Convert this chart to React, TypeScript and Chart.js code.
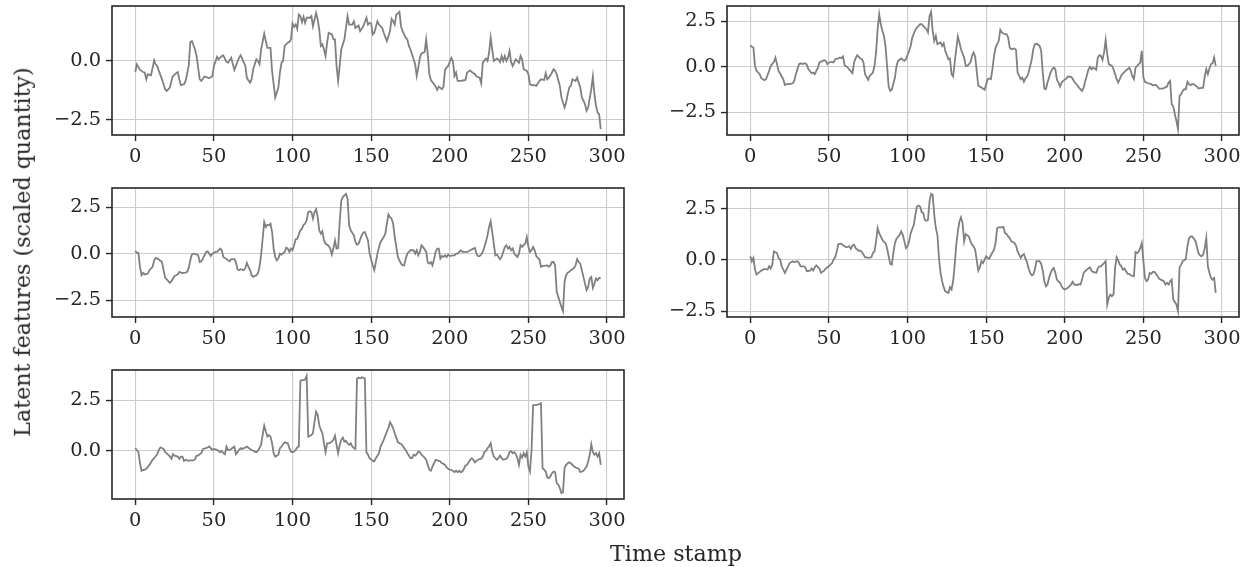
import React, { useEffect, useRef } from "react";
import { Chart, registerables } from "chart.js";

Chart.register(...registerables);

// ---------- data ----------
const xTicks = [0, 50, 100, 150, 200, 250, 300];
const yTicks = [-2.5, 0, 2.5];
const xLabel = "Time stamp";
const yLabel = "Latent features (scaled quantity)";

// each series: [time stamp, scaled value]
const latent1: [number, number][] = [
  [0,-0.47],[1,-0.14],[3,-0.38],[5,-0.47],[6,-0.49],[7,-0.78],[8,-0.56],[10,-0.61],[12,0.03],[13,-0.14],[14,-0.21],[15,-0.42],[17,-0.78],[19,-1.2],[20,-1.27],[22,-1.13],[23,-0.85],[24,-0.64],[26,-0.52],[27,-0.47],[28,-0.78],[29,-1.03],[31,-0.99],[32,-0.85],[34,-0.21],[35,0.81],[36,0.85],[38,0.49],[39,0.21],[41,-0.78],[42,-0.85],[44,-0.66],[46,-0.71],[47,-0.73],[49,-0.66],[50,-0.21],[52,0.18],[53,0.07],[55,0.21],[56,0.24],[58,-0.04],[59,-0.07],[61,0.14],[63,-0.38],[64,-0.21],[66,0.14],[67,0.24],[68,0.1],[70,-0.21],[71,-0.73],[73,-0.92],[74,-0.78],[75,-0.35],[77,0.07],[78,0],[79,-0.14],[80,0.49],[82,1.16],[83,0.85],[84,0.56],[86,0.56],[87,-0.42],[88,-0.99],[89,-1.55],[91,-1.13],[92,-0.49],[93,-0.07],[94,0],[95,0.64],[97,0.78],[98,0.81],[99,0.92],[100,1.6],[101,1.45],[102,1.55],[103,1.37],[104,1.98],[105,1.91],[106,1.65],[107,1.88],[108,1.62],[109,1.84],[111,1.84],[112,1.91],[113,1.48],[115,2.05],[116,1.77],[117,1.34],[118,0.64],[119,0.71],[120,0.49],[121,0.21],[122,0.78],[123,1.2],[125,1.13],[126,0.92],[127,0.92],[128,-0.21],[129,-0.85],[130,-0.21],[131,0.49],[133,0.92],[134,1.41],[135,1.91],[136,1.55],[138,1.55],[139,1.69],[140,1.41],[142,1.51],[143,1.27],[144,1.37],[145,1.48],[147,1.84],[148,1.55],[149,1.62],[150,1.6],[151,1.13],[152,1.2],[154,1.69],[155,1.55],[157,1.41],[158,1.2],[160,0.85],[162,1.27],[163,1.79],[164,1.69],[165,1.55],[166,1.98],[167,2.02],[168,2.09],[169,1.48],[170,1.27],[172,0.99],[173,0.92],[174,0.64],[175,0.49],[177,0.07],[178,-0.14],[179,-0.64],[180,-0.28],[181,0.14],[182,0.32],[184,0.38],[185,0.92],[186,0.29],[187,-0.56],[188,-0.81],[190,-0.99],[191,-1.09],[192,-1.23],[193,-1.09],[195,-1.2],[196,-1.09],[197,-0.38],[198,-0.28],[199,-0.21],[201,0.13],[202,0],[203,-0.64],[204,-0.49],[205,-0.85],[207,-0.85],[209,-0.82],[210,-0.81],[211,-0.49],[213,-0.4],[214,-0.47],[216,-0.56],[217,-0.66],[219,-0.71],[220,-0.95],[221,-0.07],[223,0.1],[224,0],[225,0.35],[226,0.99],[227,0.49],[228,0],[230,0.1],[231,0.07],[232,-0.04],[233,0.21],[234,0],[235,0.21],[236,0],[237,0.14],[238,0.42],[239,-0.04],[240,-0.21],[241,-0.07],[242,0.07],[244,-0.07],[245,0.21],[246,0.07],[247,-0.35],[249,-0.42],[250,-0.56],[251,-0.99],[252,-1.03],[253,-1.02],[255,-1.06],[256,-0.95],[257,-0.85],[258,-0.78],[260,-0.81],[261,-0.52],[262,-0.78],[263,-0.71],[264,-0.61],[265,-0.49],[266,-0.35],[267,-0.42],[268,-0.56],[270,-1.06],[271,-1.55],[273,-1.98],[274,-1.77],[275,-1.41],[276,-1.13],[277,-1.06],[278,-0.78],[280,-0.85],[281,-0.71],[282,-0.92],[283,-1.13],[284,-1.55],[285,-1.69],[286,-1.84],[287,-2.12],[288,-1.98],[290,-1.2],[291,-0.66],[292,-1.41],[293,-1.91],[294,-2.19],[295,-2.26],[296,-2.9]
];

const latent2: [number, number][] = [
  [0,1.19],[1,1.1],[2,1.06],[3,0.05],[4,-0.22],[6,-0.4],[7,-0.62],[9,-0.73],[10,-0.68],[12,-0.22],[13,0.05],[15,0.27],[16,0.51],[17,0.15],[18,-0.22],[20,-0.53],[21,-0.68],[22,-0.99],[23,-0.95],[25,-0.95],[27,-0.9],[28,-0.77],[29,-0.4],[31,0.15],[32,0.2],[33,0.15],[35,0.2],[36,0.11],[37,-0.13],[39,-0.35],[40,-0.31],[41,-0.4],[43,-0.04],[44,0.24],[46,0.33],[47,0.37],[48,0.33],[49,0.15],[50,0.24],[52,0.27],[53,0.24],[54,0.42],[56,0.46],[57,0.51],[58,0.48],[59,0.57],[60,0.09],[62,-0.04],[63,-0.16],[65,-0.35],[66,0.24],[67,0.46],[68,0.64],[70,0.46],[71,0.42],[72,0.24],[73,-0.4],[75,-0.71],[76,-0.49],[78,-0.31],[79,0.05],[80,0.79],[81,2.07],[82,2.89],[83,2.34],[84,1.98],[85,1.7],[86,1.15],[87,0.05],[88,-1.08],[89,-1.32],[90,-1.26],[92,-0.59],[93,0.05],[94,0.33],[96,0.46],[98,0.33],[99,0.42],[100,0.64],[101,0.88],[102,1.15],[103,1.61],[105,2.03],[106,2.16],[108,2.34],[109,2.34],[110,2.25],[111,2.16],[112,2.07],[113,1.89],[114,2.8],[115,3.02],[116,1.98],[117,1.43],[118,1.7],[119,1.25],[121,1.34],[122,1.15],[123,1.3],[124,0.88],[126,0.42],[127,0.46],[128,-0.4],[129,-0.53],[130,0.24],[131,0.97],[132,1.67],[133,1.34],[134,0.97],[136,0.51],[137,0.05],[138,0.05],[140,0.24],[141,0.6],[142,0.79],[143,0.57],[145,-1.04],[147,-1.14],[149,-1.26],[151,-0.68],[152,-0.64],[153,-0.68],[154,-0.13],[155,0.6],[156,1.06],[158,1.43],[159,2.03],[160,1.89],[161,1.83],[163,1.79],[164,1.61],[165,1.06],[166,0.97],[168,1.01],[169,0.93],[170,-0.31],[171,-0.49],[172,-0.68],[173,-0.59],[174,-0.82],[175,-0.64],[176,-0.53],[177,-0.31],[178,0.05],[179,0.42],[180,0.97],[181,1.25],[182,1.28],[184,1.15],[185,0.88],[186,-0.31],[187,-1.19],[188,-1.23],[189,-0.86],[190,-0.59],[191,-0.31],[192,-0.13],[193,-0.04],[194,-0.13],[195,-0.71],[196,-0.86],[197,-1.08],[198,-0.86],[199,-0.77],[201,-0.64],[202,-0.53],[204,-0.55],[205,-0.64],[206,-0.82],[208,-1.01],[209,-1.14],[211,-1.32],[212,-1.14],[213,-0.77],[214,-0.49],[215,-0.16],[216,0],[217,-0.13],[218,-0.04],[220,-0.16],[221,0.51],[222,0.64],[223,0.6],[224,0.38],[225,0.79],[226,1.48],[227,0.7],[228,0.15],[230,0.05],[231,-0.13],[232,-0.4],[233,-0.68],[234,-0.86],[235,-0.68],[236,-0.46],[238,-0.27],[239,-0.18],[240,-0.13],[241,-0.04],[242,-0.22],[243,-0.53],[244,-0.68],[245,-0.04],[246,0.05],[248,0.24],[249,0.88],[250,-0.59],[251,-0.82],[253,-0.9],[255,-0.95],[256,-1.01],[258,-0.99],[259,-1.08],[260,-1.19],[262,-1.19],[263,-1.17],[265,-1.08],[266,-0.86],[267,-0.77],[268,-2.05],[269,-2.18],[270,-2.6],[271,-2.97],[272,-3.42],[273,-1.59],[274,-1.5],[275,-1.32],[276,-1.23],[277,-1.23],[278,-0.82],[279,-0.95],[280,-1.01],[281,-0.95],[282,-0.95],[284,-1.08],[285,-1.19],[286,-1.17],[288,-1.14],[289,-0.53],[290,-0.13],[291,-0.4],[292,-0.09],[293,0.15],[294,0.2],[295,0.51],[296,0.05]
];

const latent3: [number, number][] = [
  [0,0.14],[1,0.04],[2,0.04],[3,-0.71],[4,-1.16],[5,-1.04],[6,-1.12],[8,-1.07],[9,-0.89],[11,-0.71],[12,-0.36],[13,-0.23],[14,-0.27],[15,-0.32],[17,-0.45],[18,-0.89],[19,-1.3],[20,-1.38],[22,-1.57],[23,-1.48],[24,-1.34],[25,-1.2],[27,-1.12],[28,-0.98],[29,-1.02],[30,-1.04],[32,-1.02],[33,-0.98],[34,-0.77],[35,-0.36],[36,-0.05],[37,0],[39,-0.04],[40,-0.09],[41,-0.45],[42,-0.41],[43,-0.27],[44,-0.09],[45,0.09],[46,0.12],[47,0],[48,-0.13],[49,0],[51,0.09],[52,0.09],[53,0.18],[54,0.27],[55,0.18],[56,-0.18],[57,-0.23],[59,-0.36],[60,-0.41],[61,-0.3],[63,-0.3],[64,-0.45],[65,-0.84],[66,-0.89],[67,-0.84],[69,-0.89],[70,-0.77],[71,-0.5],[72,-0.71],[73,-0.89],[74,-1.16],[75,-1.25],[77,-1.16],[78,-1.07],[79,-0.71],[80,-0.09],[81,0.8],[82,1.7],[83,1.43],[84,1.55],[85,1.52],[86,1.61],[87,1.16],[88,0.27],[89,-0.18],[90,-0.36],[91,-0.27],[92,0],[93,-0.05],[95,0.09],[96,0.32],[97,0.27],[98,0.09],[99,0.27],[100,0.18],[101,0.45],[102,0.77],[103,0.8],[105,1.25],[106,1.34],[107,1.55],[108,1.61],[109,1.79],[110,2.23],[111,2.27],[112,2.23],[113,1.88],[114,2.23],[115,2.38],[116,1.96],[117,1.25],[118,1.07],[119,1.2],[120,0.71],[121,0.54],[123,0.41],[124,0.27],[125,-0.05],[126,0.27],[127,0.71],[128,0.27],[129,0.3],[130,1.7],[131,2.86],[132,3.04],[133,3.13],[134,3.21],[135,2.95],[136,1.52],[137,1.25],[139,0.98],[140,0.63],[141,0.48],[142,0.54],[144,0.98],[145,1.13],[146,1.16],[148,0.71],[149,0],[151,-0.63],[152,-0.89],[153,-0.45],[154,0],[155,0.36],[156,0.63],[158,0.89],[159,1.07],[160,1.61],[161,2.11],[162,1.96],[163,1.88],[164,1.61],[165,0.89],[166,0.36],[167,-0.18],[168,-0.36],[169,-0.54],[170,-0.63],[171,-0.63],[172,-0.27],[173,0],[175,0.18],[176,0.18],[177,0.18],[178,0],[179,0.18],[180,-0.09],[181,0.09],[182,0.45],[183,0.36],[185,0.09],[186,-0.48],[187,-0.54],[188,-0.45],[189,-0.63],[190,-0.3],[191,0.09],[192,0.27],[193,0.27],[194,-0.27],[195,-0.13],[196,-0.18],[197,-0.09],[198,-0.18],[199,-0.05],[200,-0.13],[202,-0.09],[203,-0.09],[204,0],[205,0],[206,0.09],[207,0.18],[208,0.09],[209,0.09],[210,0.09],[211,0.09],[212,0.13],[213,0.18],[215,0.27],[216,0.3],[217,0],[218,-0.13],[219,-0.13],[220,-0.05],[221,0.09],[222,0.36],[223,0.63],[224,0.98],[225,1.43],[226,1.73],[227,1.16],[228,0.54],[229,-0.09],[230,-0.05],[231,-0.18],[232,-0.3],[233,-0.18],[234,0.09],[235,0.36],[236,0.45],[237,0.27],[238,0.36],[239,0.18],[240,0.27],[241,0],[242,-0.09],[243,-0.18],[244,0],[245,0.45],[246,0.36],[247,0.45],[248,0.54],[249,0.89],[250,0.36],[251,0.09],[252,0.18],[253,0.36],[254,0.18],[255,-0.13],[256,-0.23],[257,-0.3],[258,-0.71],[259,-0.66],[260,-0.66],[262,-0.63],[263,-0.71],[264,-0.63],[265,-0.45],[266,-0.45],[267,-0.63],[268,-2.05],[269,-2.32],[270,-2.59],[271,-2.86],[272,-3.09],[273,-1.52],[274,-1.16],[275,-1.02],[276,-0.98],[277,-0.89],[278,-0.84],[279,-0.77],[280,-0.63],[281,-0.3],[282,-0.45],[283,-0.54],[284,-0.89],[285,-1.25],[286,-1.61],[287,-1.96],[288,-1.79],[289,-1.34],[290,-1.25],[291,-1.84],[292,-1.61],[293,-1.34],[294,-1.43],[295,-1.3],[296,-1.34]
];

const latent4: [number, number][] = [
  [0,0.18],[1,-0.06],[2,0.1],[3,-0.47],[4,-0.71],[6,-0.58],[7,-0.52],[9,-0.44],[11,-0.47],[12,-0.31],[13,-0.42],[14,-0.23],[15,0.42],[17,0.34],[18,0.1],[19,0.02],[20,-0.31],[22,-0.63],[23,-0.47],[24,-0.31],[25,-0.15],[27,-0.06],[28,-0.11],[30,-0.06],[31,-0.15],[32,-0.31],[34,-0.31],[35,-0.36],[36,-0.55],[38,-0.52],[39,-0.42],[40,-0.52],[41,-0.36],[42,-0.26],[44,-0.42],[45,-0.63],[47,-0.52],[48,-0.42],[49,-0.36],[50,-0.31],[52,-0.15],[53,0.02],[54,0.13],[55,0.42],[56,0.78],[58,0.8],[59,0.71],[60,0.67],[61,0.62],[63,0.67],[64,0.54],[65,0.71],[66,0.75],[67,0.58],[69,0.45],[70,0.45],[71,0.39],[73,0.13],[74,0.13],[75,0.1],[77,0.13],[78,0.34],[79,0.42],[80,0.91],[81,1.56],[82,1.31],[84,0.99],[85,0.88],[86,0.83],[87,0.58],[88,0.18],[89,-0.19],[90,-0.23],[91,0.34],[92,0.83],[93,1.04],[95,1.23],[96,1.4],[97,1.23],[98,0.91],[99,0.58],[100,0.67],[101,0.91],[102,1.31],[104,1.72],[105,2.21],[106,2.61],[107,2.66],[108,2.61],[109,2.34],[110,2.29],[111,1.96],[112,1.92],[113,1.96],[114,2.86],[115,3.23],[116,3.18],[117,2.21],[118,1.56],[119,1.23],[120,0.1],[121,-0.63],[122,-1.04],[123,-1.33],[124,-1.53],[126,-1.61],[127,-1.33],[128,-1.44],[129,-1.04],[130,-0.23],[131,0.75],[132,1.4],[133,1.88],[134,2.08],[135,1.8],[136,0.91],[137,1.27],[139,1.15],[140,0.91],[141,0.75],[142,0.67],[143,0.5],[145,-0.52],[146,-0.36],[147,-0.06],[148,-0.15],[150,0.18],[151,0.1],[152,0.06],[153,0.23],[155,0.5],[156,0.83],[157,1.56],[158,1.59],[159,1.59],[161,1.61],[162,1.31],[163,1.27],[164,1.15],[165,1.07],[166,0.91],[168,0.83],[169,0.7],[170,0.42],[171,0.26],[172,0.1],[173,0.23],[174,0.29],[175,0.06],[176,-0.1],[177,-0.42],[178,-0.63],[179,-0.75],[180,-0.71],[181,-0.47],[182,-0.06],[184,-0.06],[185,-0.19],[186,-0.52],[187,-1.04],[188,-1.28],[189,-1.2],[190,-0.88],[191,-0.63],[192,-0.47],[193,-0.39],[194,-0.63],[195,-0.96],[196,-1.04],[197,-1.12],[198,-1.28],[199,-1.4],[200,-1.44],[202,-1.36],[203,-1.28],[204,-1.2],[205,-1.07],[206,-1.2],[207,-1.2],[208,-1.23],[209,-1.17],[210,-1.2],[211,-0.96],[212,-0.63],[213,-0.55],[214,-0.47],[215,-0.42],[216,-0.36],[217,-0.52],[218,-0.58],[220,-0.63],[221,-0.42],[222,-0.31],[223,-0.31],[224,-0.23],[225,-0.15],[226,-0.06],[227,-2.18],[228,-1.85],[229,-1.69],[230,-1.77],[231,-1.69],[232,-0.39],[233,0.13],[234,-0.03],[235,-0.23],[236,-0.31],[237,-0.47],[238,-0.42],[239,-0.55],[240,-0.68],[241,-0.68],[242,-0.75],[244,-0.8],[245,0.39],[246,0.34],[247,0.42],[248,0.58],[249,0.83],[250,-0.06],[251,-0.88],[252,-1.04],[253,-0.96],[254,-0.63],[255,-0.68],[256,-0.58],[257,-0.58],[258,-0.68],[259,-0.8],[260,-0.91],[261,-0.96],[263,-1.04],[264,-1.2],[265,-1.12],[266,-1.2],[267,-1.04],[268,-0.96],[269,-1.93],[270,-2.05],[271,-2.18],[272,-2.5],[273,-0.36],[274,-0.23],[275,-0.06],[276,-0.02],[277,0.06],[278,0.67],[279,1.04],[280,1.15],[281,1.15],[283,0.94],[284,0.67],[285,0.34],[286,0.23],[287,0.18],[288,0.26],[289,0.58],[290,1.07],[291,-0.31],[292,-0.63],[293,-0.88],[294,-0.96],[295,-0.88],[296,-1.61]
];

const latent5: [number, number][] = [
  [0,0.12],[1,0.03],[2,-0.08],[3,-0.63],[4,-1],[6,-0.95],[7,-0.9],[9,-0.71],[11,-0.46],[12,-0.38],[14,-0.18],[15,0.03],[16,0.16],[18,0.08],[19,-0.08],[21,-0.21],[22,-0.3],[23,-0.41],[24,-0.18],[25,-0.25],[27,-0.3],[28,-0.41],[29,-0.3],[30,-0.3],[31,-0.51],[32,-0.46],[34,-0.51],[35,-0.49],[37,-0.49],[38,-0.43],[39,-0.25],[40,-0.25],[41,-0.18],[42,-0.13],[43,0.08],[45,0.12],[46,0.15],[47,0.2],[48,0.12],[49,0.03],[50,0.08],[52,0.03],[53,-0.02],[54,-0.08],[55,-0.02],[56,-0.13],[57,-0.18],[58,0.2],[59,0.03],[60,0.03],[61,0.08],[63,0.2],[64,-0.18],[65,-0.08],[66,0.03],[67,0.12],[68,0.08],[70,0.15],[71,0.2],[73,0.08],[74,0.03],[76,-0.05],[77,-0.08],[78,-0.02],[80,0.28],[81,0.77],[82,1.23],[83,0.94],[84,0.69],[85,0.77],[86,0.69],[87,0.36],[88,-0.13],[89,-0.3],[91,-0.21],[92,0.12],[93,0.2],[94,0.31],[95,0.41],[97,0.36],[98,0.12],[99,-0.05],[100,-0.08],[101,-0.05],[102,0.03],[103,0.15],[104,0.2],[105,3.45],[106,3.49],[107,3.49],[108,3.52],[109,3.7],[110,0.69],[111,0.72],[112,0.77],[113,0.86],[114,1.43],[115,1.92],[116,1.76],[117,1.27],[118,1.02],[119,0.86],[120,0.36],[121,-0.08],[122,0.36],[123,0.36],[124,0.39],[125,0.44],[126,0.53],[127,0.74],[128,0.28],[129,-0.13],[130,0.28],[131,0.53],[132,0.64],[133,0.44],[134,0.48],[135,0.36],[136,0.28],[137,0.36],[138,0.2],[139,0.12],[140,0.08],[141,3.57],[142,3.62],[143,3.57],[144,3.63],[145,3.6],[146,3.57],[147,-0.08],[148,-0.21],[149,-0.38],[151,-0.51],[152,-0.54],[153,-0.38],[155,-0.13],[156,0.2],[158,0.53],[159,0.74],[160,0.94],[161,1.13],[162,1.4],[163,1.27],[164,1.1],[165,0.86],[166,0.64],[167,0.41],[169,0.33],[170,0.25],[171,0.12],[172,0.03],[173,-0.13],[174,-0.25],[175,-0.38],[176,-0.38],[177,-0.21],[178,-0.25],[179,-0.18],[180,-0.05],[181,-0.08],[182,-0.21],[184,-0.35],[185,-0.46],[186,-0.71],[187,-0.95],[188,-1],[189,-0.79],[190,-0.63],[191,-0.46],[192,-0.49],[193,-0.51],[194,-0.54],[195,-0.63],[196,-0.66],[197,-0.71],[198,-0.84],[199,-0.9],[200,-0.95],[202,-1],[203,-1.07],[204,-1],[205,-1.07],[206,-1],[207,-1.07],[208,-1.04],[209,-0.9],[210,-0.74],[211,-0.71],[212,-0.58],[213,-0.46],[214,-0.38],[215,-0.46],[216,-0.58],[217,-0.51],[219,-0.41],[220,-0.41],[221,-0.3],[222,-0.08],[223,-0.02],[224,0.12],[225,0.2],[226,0.36],[227,-0.05],[228,-0.3],[229,-0.38],[230,-0.46],[231,-0.38],[232,-0.25],[233,-0.38],[234,-0.46],[236,-0.41],[237,-0.3],[238,-0.08],[239,-0.02],[240,-0.13],[241,-0.08],[242,-0.18],[243,-0.38],[244,-0.71],[245,-0.21],[246,-0.35],[247,-0.13],[248,-0.3],[249,-0.08],[250,-0.79],[251,-1.04],[252,0.03],[253,2.25],[254,2.25],[255,2.25],[256,2.29],[257,2.29],[258,2.34],[259,-0.87],[260,-0.95],[261,-1.04],[262,-1.33],[263,-1.37],[264,-1.28],[265,-1.12],[266,-1.04],[267,-1.07],[268,-1.61],[269,-1.69],[270,-1.86],[271,-2.11],[272,-2.06],[273,-0.87],[274,-0.71],[275,-0.63],[276,-0.58],[277,-0.63],[278,-0.71],[279,-0.79],[280,-0.84],[282,-0.9],[283,-1.07],[284,-1.04],[285,-1],[286,-0.9],[287,-0.79],[288,-0.54],[289,-0.21],[290,0.31],[291,-0.08],[292,-0.21],[293,-0.13],[294,-0.3],[295,-0.13],[296,-0.71]
];

// ---------- style / layout ----------
const FONT = '"DejaVu Serif", serif';
const TICK_SIZE = 19.4;
const LABEL_SIZE = 22.2;
const INK = "#262626";
const LINE = "#808080";
const GRID = "#cccccc";

const AREA_W = 512;
const AREA_H = 129;
const YW = 100; // y-axis band width
const XH = 42; // x-axis band height
const PT = 6;
const PR = 10;

const panels = [
  { data: latent1, left: 112, top: 6 },
  { data: latent2, left: 727, top: 6 },
  { data: latent3, left: 112, top: 188 },
  { data: latent4, left: 727, top: 188 },
  { data: latent5, left: 112, top: 370 },
];

const framePlugin = {
  id: "frame",
  afterDatasetsDraw(chart: any) {
    const { ctx, chartArea: a } = chart;
    ctx.save();
    ctx.strokeStyle = INK;
    ctx.lineWidth = 1.6;
    ctx.strokeRect(a.left, a.top, a.right - a.left, a.bottom - a.top);
    ctx.restore();
  },
};

const fmtY = (v: number) => (v < 0 ? "\u2212" : "") + Math.abs(v).toFixed(1);

function Panel({ data, left, top }: { data: [number, number][]; left: number; top: number }) {
  const ref = useRef<HTMLCanvasElement>(null);
  useEffect(() => {
    const ts = data.map((d) => d[0]);
    const vs = data.map((d) => d[1]);
    const tMin = Math.min(...ts);
    const tMax = Math.max(...ts);
    const vMin = Math.min(...vs);
    const vMax = Math.max(...vs);
    const tPad = 0.05 * (tMax - tMin);
    const vPad = 0.05 * (vMax - vMin);
    const yLo = vMin - vPad;
    const yHi = vMax + vPad;
    const chart = new Chart(ref.current as HTMLCanvasElement, {
      type: "line",
      data: {
        datasets: [
          {
            data: data.map(([x, y]) => ({ x, y })),
            borderColor: LINE,
            borderWidth: 1.8,
            pointRadius: 0,
            tension: 0,
            fill: false,
          },
        ],
      },
      options: {
        animation: false,
        responsive: false,
        maintainAspectRatio: false,
        devicePixelRatio: 1,
        layout: { padding: { top: PT, right: PR, left: 0, bottom: 0 }, autoPadding: false },
        plugins: { legend: { display: false }, tooltip: { enabled: false } },
        scales: {
          x: {
            type: "linear",
            bounds: "data",
            min: tMin - tPad,
            max: tMax + tPad,
            afterBuildTicks: (s: any) => {
              s.ticks = xTicks.map((value) => ({ value }));
            },
            afterFit: (s: any) => {
              s.height = XH;
              s.paddingLeft = 0;
              s.paddingRight = 0;
              s.paddingTop = 0;
              s.paddingBottom = 0;
            },
            grid: { color: GRID, lineWidth: 1.1, tickColor: INK, tickLength: 6, tickWidth: 1.4 },
            border: { display: false },
            ticks: {
              font: { family: FONT, size: TICK_SIZE },
              color: INK,
              padding: 4,
              maxRotation: 0,
              autoSkip: false,
              callback: (v: any) => String(v),
            },
          },
          y: {
            type: "linear",
            bounds: "data",
            min: yLo,
            max: yHi,
            afterBuildTicks: (s: any) => {
              s.ticks = yTicks.filter((v) => v >= yLo && v <= yHi).map((value) => ({ value }));
            },
            afterFit: (s: any) => {
              s.width = YW;
              s.paddingLeft = 0;
              s.paddingRight = 0;
              s.paddingTop = 0;
              s.paddingBottom = 0;
            },
            grid: { color: GRID, lineWidth: 1.1, tickColor: INK, tickLength: 6, tickWidth: 1.4 },
            border: { display: false },
            ticks: {
              font: { family: FONT, size: TICK_SIZE },
              color: INK,
              padding: 5,
              autoSkip: false,
              callback: (v: any) => fmtY(Number(v)),
            },
          },
        },
      },
      plugins: [framePlugin],
    } as any);
    return () => chart.destroy();
  }, [data]);
  const w = YW + AREA_W + PR;
  const h = PT + AREA_H + XH;
  return (
    <canvas
      ref={ref}
      width={w}
      height={h}
      style={{ position: "absolute", left: left - YW, top: top - PT, width: w, height: h }}
    />
  );
}

export default function App() {
  return (
    <div
      style={{
        position: "absolute",
        left: 0,
        top: 0,
        width: 1250,
        height: 567,
        background: "#ffffff",
        overflow: "hidden",
        fontFamily: FONT,
        color: INK,
      }}
    >
      {panels.map((p, i) => (
        <Panel key={i} data={p.data} left={p.left} top={p.top} />
      ))}
      <div
        style={{
          position: "absolute",
          left: 22,
          top: 252,
          transform: "translate(-50%, -50%) rotate(-90deg)",
          whiteSpace: "nowrap",
          fontSize: LABEL_SIZE,
          lineHeight: 1,
        }}
      >
        {yLabel}
      </div>
      <div
        style={{
          position: "absolute",
          left: 676,
          top: 553,
          transform: "translate(-50%, -50%)",
          whiteSpace: "nowrap",
          fontSize: LABEL_SIZE,
          lineHeight: 1,
        }}
      >
        {xLabel}
      </div>
    </div>
  );
}
